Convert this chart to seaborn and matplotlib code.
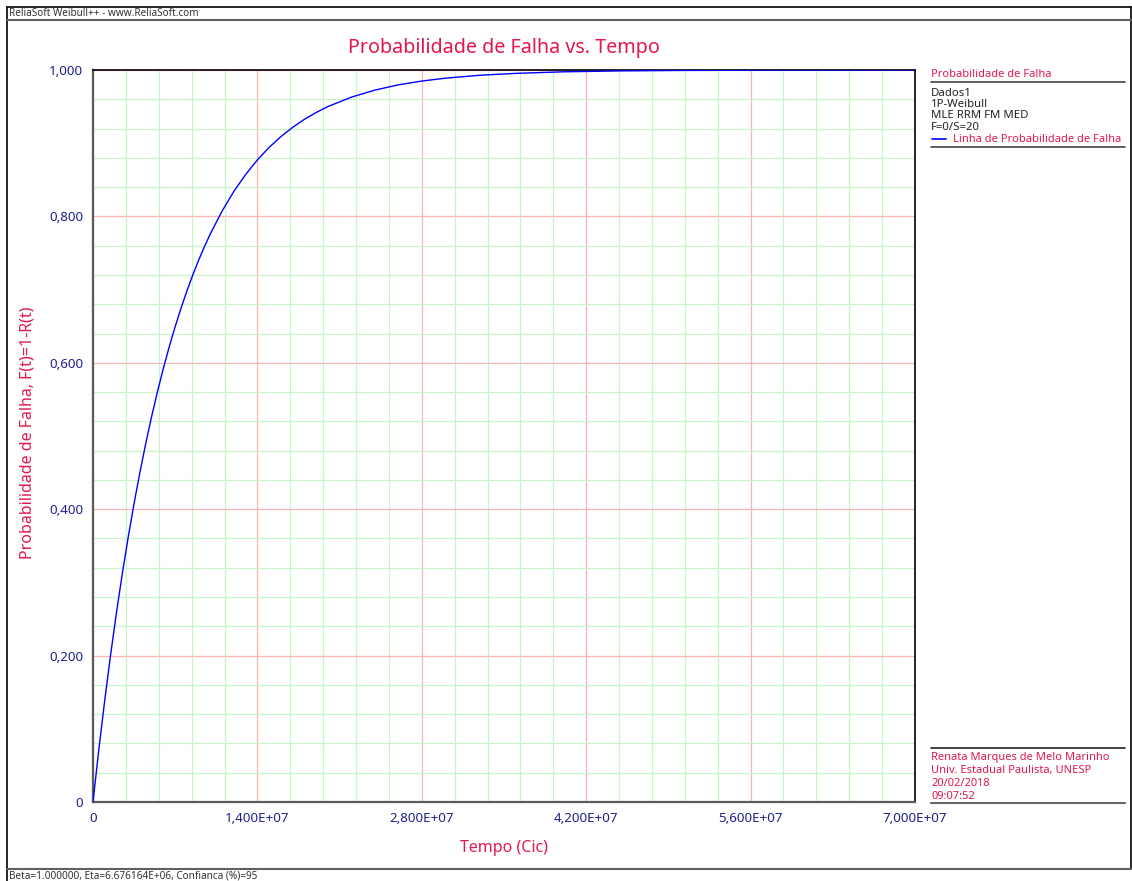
import matplotlib
matplotlib.use("Agg")
import matplotlib.pyplot as plt
from matplotlib.lines import Line2D
from matplotlib.ticker import FixedLocator, MultipleLocator
import seaborn as sns
import pandas as pd

# ---- data ----
tempo = [0, 0.5e6, 1e6, 1.5e6, 2e6, 2.5e6, 3e6, 3.5e6, 4e6, 4.5e6, 5e6, 5.5e6, 6e6,
         6.5e6, 7e6, 7.5e6, 8e6, 8.5e6, 9e6, 9.5e6, 10e6, 11e6, 12e6, 13e6, 14e6,
         15e6, 16e6, 17e6, 18e6, 19e6, 20e6, 22e6, 24e6, 26e6, 28e6, 30e6, 33e6,
         36e6, 40e6, 45e6, 50e6, 60e6, 70e6]
prob_falha = [0.0, 0.0722, 0.1391, 0.2012, 0.2589, 0.3124, 0.3620, 0.4080, 0.4507,
              0.4904, 0.5271, 0.5612, 0.5929, 0.6223, 0.6495, 0.6748, 0.6983, 0.7201,
              0.7403, 0.7590, 0.7764, 0.8075, 0.8343, 0.8573, 0.8772, 0.8943, 0.9090,
              0.9216, 0.9326, 0.9419, 0.9500, 0.9629, 0.9725, 0.9797, 0.9849, 0.9888,
              0.9929, 0.9954, 0.9975, 0.9988, 0.9994, 0.9999, 1.0000]
x_ticks = [0, 1.4e7, 2.8e7, 4.2e7, 5.6e7, 7.0e7]
x_tick_labels = ["0", "1,400E+07", "2,800E+07", "4,200E+07", "5,600E+07", "7,000E+07"]
y_ticks = [0, 0.2, 0.4, 0.6, 0.8, 1.0]
y_tick_labels = ["0", "0,200", "0,400", "0,600", "0,800", "1,000"]

title = "Probabilidade de Falha vs. Tempo"
xlabel = "Tempo (Cic)"
ylabel = "Probabilidade de Falha, F(t)=1-R(t)"
header = "ReliaSoft Weibull++ - www.ReliaSoft.com"
footer = "Beta=1.000000, Eta=6.676164E+06, Confianca (%)=95"
legend_title = "Probabilidade de Falha"
legend_info = ["Dados1", "1P-Weibull", "MLE RRM FM MED", "F=0/S=20"]
legend_line = "Linha de Probabilidade de Falha"
author_info = ["Renata Marques de Melo Marinho", "Univ. Estadual Paulista, UNESP",
               "20/02/2018", "09:07:52"]

CRIMSON = "#e3184d"
NAVY = "#1f1f8f"
BLUE = "#0000ff"

sns.set_style("white")
plt.rcParams["font.family"] = ["Noto Sans", "DejaVu Sans"]

W, H = 1132, 881
fig = plt.figure(figsize=(W / 100, H / 100), dpi=100)


def fx(x):
    return x / W


def fy(y):
    return 1 - y / H


ax_l, ax_r, ax_t, ax_b = 93, 915, 70, 802
ax = fig.add_axes([fx(ax_l), fy(ax_b), (ax_r - ax_l) / W, (ax_b - ax_t) / H])

df = pd.DataFrame({"Tempo": tempo, "F": prob_falha})
sns.lineplot(data=df, x="Tempo", y="F", ax=ax, color=BLUE, linewidth=1.0, zorder=5)

ax.set_xlim(0, 7.0e7)
ax.set_ylim(0, 1.0)
ax.xaxis.set_major_locator(FixedLocator(x_ticks))
ax.yaxis.set_major_locator(FixedLocator(y_ticks))
ax.xaxis.set_minor_locator(MultipleLocator(0.28e7))
ax.yaxis.set_minor_locator(MultipleLocator(0.04))
ax.set_xticklabels(x_tick_labels)
ax.set_yticklabels(y_tick_labels)
ax.grid(which="minor", color="#c8f5c8", linewidth=0.9)
ax.grid(which="major", color="#ffb4b4", linewidth=0.9)
ax.set_axisbelow(True)
ax.tick_params(which="major", length=5, width=1, color="#555555",
               labelcolor=NAVY, labelsize=9.6, pad=2)
ax.tick_params(which="minor", length=0)
ax.set_xlabel("")
ax.set_ylabel("")
for s in ["left", "bottom"]:
    ax.spines[s].set_color("#5a5a5a")
    ax.spines[s].set_linewidth(1.6)
for s in ["top", "right"]:
    ax.spines[s].set_color("black")
    ax.spines[s].set_linewidth(1.2)

fig.text(fx(504), fy(48), title, color=CRIMSON, fontsize=14.2, ha="center", va="center")
fig.text(fx(504), fy(848), xlabel, color=CRIMSON, fontsize=11.5, ha="center", va="center")
fig.text(fx(28), fy(433), ylabel, color=CRIMSON, fontsize=11.5, ha="center", va="center",
         rotation=90)

# frame, header and footer
fig.add_artist(Line2D([fx(7), fx(1131)], [fy(7), fy(7)], color="black", lw=1.2))
fig.add_artist(Line2D([fx(7), fx(7)], [fy(7), fy(881)], color="black", lw=1.2))
fig.add_artist(Line2D([fx(1131), fx(1131)], [fy(7), fy(869)], color="black", lw=1.2))
fig.add_artist(Line2D([fx(7), fx(1131)], [fy(19.5), fy(19.5)], color="#606060", lw=1.5))
fig.add_artist(Line2D([fx(7), fx(1131)], [fy(869), fy(869)], color="#606060", lw=1.5))
fig.text(fx(9), fy(13.5), header, color="#333333", fontsize=7.2, ha="left", va="center")
fig.text(fx(9), fy(875.5), footer, color="#333333", fontsize=7.2, ha="left", va="center")

# legend panel
lx = 931
fig.text(fx(lx), fy(74.5), legend_title, color=CRIMSON, fontsize=8, ha="left", va="center")
fig.add_artist(Line2D([fx(lx), fx(1125)], [fy(81.5), fy(81.5)], color="#444444", lw=1.2))
for i, t in enumerate(legend_info):
    fig.text(fx(lx), fy(93 + i * 11.4), t, color="#222222", fontsize=8.2, ha="left",
             va="center")
fig.add_artist(Line2D([fx(lx + 1), fx(lx + 15)], [fy(139), fy(139)], color=BLUE, lw=1.2))
fig.text(fx(lx + 22), fy(139), legend_line, color=CRIMSON, fontsize=8, ha="left",
         va="center")
fig.add_artist(Line2D([fx(lx), fx(1125)], [fy(146.5), fy(146.5)], color="#444444", lw=1.2))

fig.add_artist(Line2D([fx(lx), fx(1125)], [fy(747.5), fy(747.5)], color="#222222", lw=1.2))
for i, t in enumerate(author_info):
    fig.text(fx(lx), fy(757.5 + i * 13), t, color=CRIMSON, fontsize=8, ha="left",
             va="center")
fig.add_artist(Line2D([fx(lx), fx(1125)], [fy(803), fy(803)], color="#666666", lw=1.5))

fig.savefig("out.png", dpi=100)
